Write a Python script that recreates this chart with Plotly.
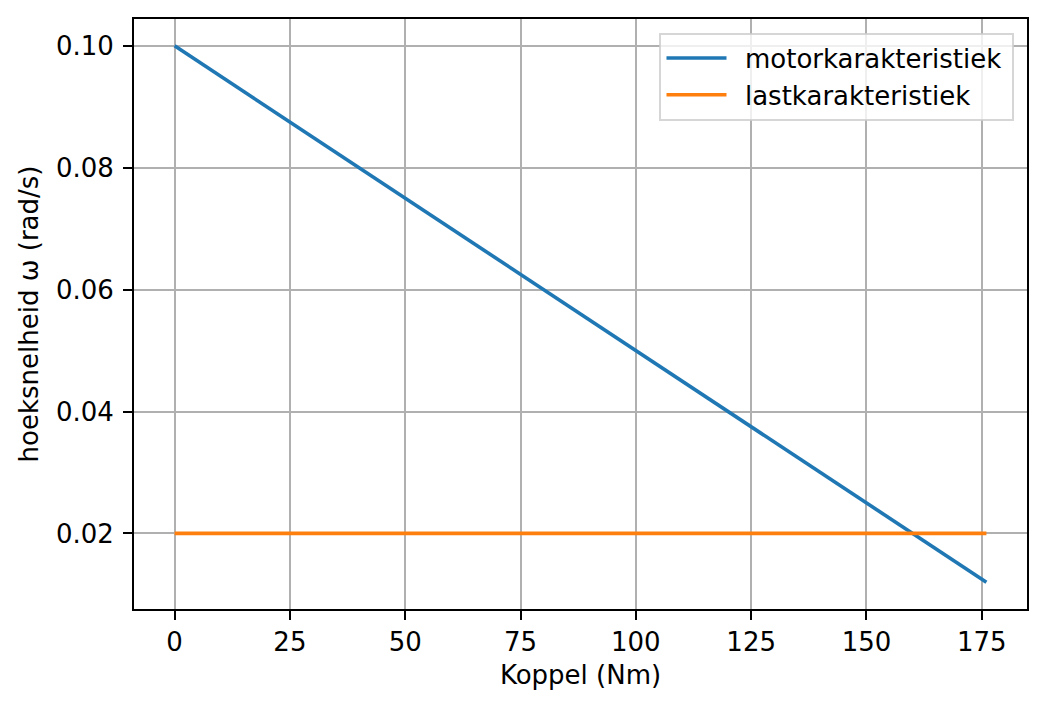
import plotly.graph_objects as go

# data
koppel = [0, 176]                 # Nm
omega_motor = [0.100, 0.012]      # rad/s
omega_last = [0.020, 0.020]       # rad/s

x_ticks = [0, 25, 50, 75, 100, 125, 150, 175]
y_ticks = [0.02, 0.04, 0.06, 0.08, 0.10]

font = dict(family="DejaVu Sans", size=26, color="black")
# spacing around legend text, closer to matplotlib's legend
pre = "\u00a0\u2009"
post = "\u2009"

fig = go.Figure()
fig.add_trace(go.Scatter(x=koppel, y=omega_motor, mode="lines", name=pre + "motorkarakteristiek" + post,
                         line=dict(color="#1f77b4", width=3.6), legendgroup="a"))
fig.add_trace(go.Scatter(x=koppel, y=omega_last, mode="lines", name=pre + "lastkarakteristiek" + post,
                         line=dict(color="#ff7f0e", width=3.6), legendgroup="b"))

axis_common = dict(showline=True, linecolor="black", linewidth=2, mirror=True,
                   showgrid=True, gridcolor="#b0b0b0", gridwidth=2,
                   ticks="outside", ticklen=9, tickwidth=2, tickcolor="black",
                   zeroline=False, tickfont=font, automargin=False)

fig.update_xaxes(range=[-8.8, 184.8], tickvals=x_ticks,
                 title=dict(text="Koppel (Nm)", font=font, standoff=10), **axis_common)
fig.update_yaxes(range=[0.0076, 0.1044], tickvals=y_ticks, tickformat=".2f",
                 ticklabelstandoff=4,
                 title=dict(text="hoeksnelheid ω (rad/s)", font=font, standoff=10), **axis_common)

# page body has an 8px margin, so the margins are shifted by that amount
fig.update_layout(
    width=1045, height=711,
    margin=dict(l=126, r=26, t=11, b=110),
    plot_bgcolor="white", paper_bgcolor="white",
    font=font,
    legend=dict(x=0.986, y=0.977, xanchor="right", yanchor="top",
                bgcolor="rgba(255,255,255,0.8)", bordercolor="rgba(204,204,204,0.8)",
                borderwidth=2, font=font, traceorder="grouped", tracegroupgap=0,
                itemwidth=60),
)

fig.write_html("out.html")
